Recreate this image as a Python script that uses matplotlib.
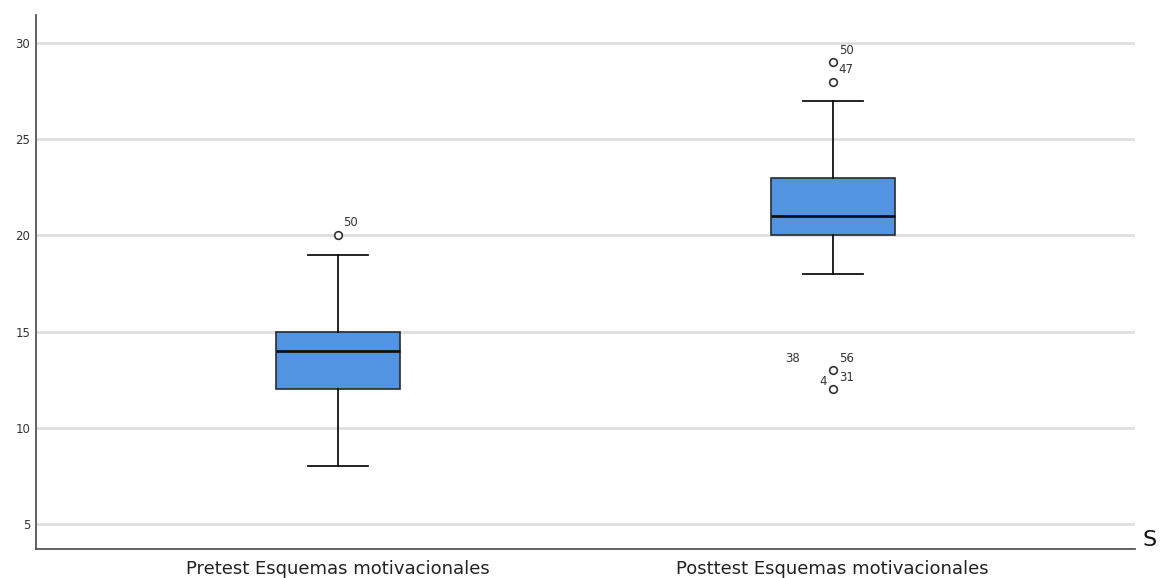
import matplotlib
matplotlib.use("Agg")
import matplotlib.pyplot as plt

plt.rcParams['font.family'] = ['DejaVu Sans']

categories = ["Pretest Esquemas motivacionales", "Posttest Esquemas motivacionales"]
whisker_low = [8, 18]
q1 = [12, 20]
median = [14, 21]
q3 = [15, 23]
whisker_high = [19, 27]
outliers = [[20], [29, 28, 13, 12]]
# (value, case label, x offset px, y offset px)
outlier_labels = [
    [(20, "50", 5, 13)],
    [(29, "50", 6, 12), (29, "47", 6, -7), (13, "38", -33, 12),
     (13, "56", 6, 12), (12, "4", -6, 8), (12, "31", 6, 12)],
]
y_ticks = [5, 10, 15, 20, 25, 30]

fig = plt.figure(figsize=(11.67, 5.78), dpi=100)
ax = fig.add_axes([0.0308, 0.0502, 0.9417, 0.9238])

stats = []
for i, name in enumerate(categories):
    stats.append(dict(label=name, whislo=whisker_low[i], q1=q1[i], med=median[i],
                      q3=q3[i], whishi=whisker_high[i], fliers=outliers[i]))

positions = [1, 2]
ax.bxp(stats, positions=positions, widths=0.25, patch_artist=True,
       showfliers=True, capwidths=0.121,
       boxprops=dict(facecolor="#5294e2", edgecolor="#2b2b2b", linewidth=1.2),
       medianprops=dict(color="#111111", linewidth=2.0),
       whiskerprops=dict(color="#111111", linewidth=1.3),
       capprops=dict(color="#111111", linewidth=1.3),
       flierprops=dict(marker="o", markerfacecolor="white", markeredgecolor="#333333",
                       markersize=5.5, markeredgewidth=1.2))

px = 72 / 100
for pos, labels in zip(positions, outlier_labels):
    for yv, txt, dx, dy in labels:
        ax.annotate(txt, xy=(pos, yv), xytext=(dx * px, dy * px),
                    textcoords="offset points", fontsize=8.5, color="#333333",
                    ha="left" if dx >= 0 else "right", va="center")

ax.set_xlim(0.389, 2.611)
ax.set_ylim(3.7, 31.46)
ax.set_yticks(y_ticks)
ax.set_yticklabels([str(t) for t in y_ticks], fontsize=8.5, color="#333333")
ax.tick_params(axis="y", length=0, pad=4)
ax.tick_params(axis="x", length=0, pad=8, labelsize=13, labelcolor="#222222")
ax.set_xticks(positions)
ax.set_xticklabels(categories)

ax.grid(axis="y", color="#dcdcdc", linewidth=1.8)
ax.set_axisbelow(True)
for side in ("top", "right"):
    ax.spines[side].set_visible(False)
for side in ("left", "bottom"):
    ax.spines[side].set_color("#555555")
    ax.spines[side].set_linewidth(1.3)

fig.text(1150 / 1167, 1 - 540 / 578, "S", fontsize=16, ha="center", va="center", color="#111111")

fig.savefig("out.png", dpi=100)
